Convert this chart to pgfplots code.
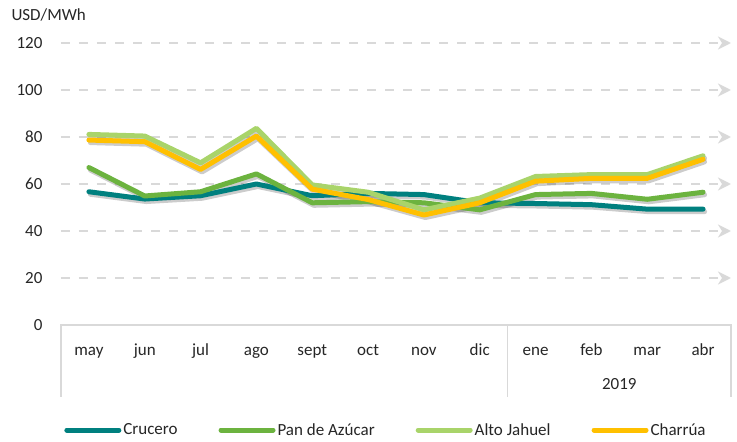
\documentclass[border=0pt]{standalone}
\usepackage{pgfplots}
\pgfplotsset{compat=1.18}
\usepackage{pgfplotstable}
\usepackage{fontspec}
\setmainfont{Carlito}
\usetikzlibrary{arrows.meta}

\definecolor{cru}{HTML}{00807F}
\definecolor{pan}{HTML}{6CB33F}
\definecolor{alto}{HTML}{A9D46A}
\definecolor{cha}{HTML}{FFC000}
\definecolor{gridc}{HTML}{D9D9D9}
\definecolor{txt}{HTML}{262626}

% precio por barra, USD/MWh
\pgfplotstableread{
x cru pan alto cha
0 56.7 67.0 81.1 78.7
1 53.6 54.9 80.4 78.0
2 55.0 56.7 69.0 66.2
3 60.0 64.3 83.7 80.4
4 55.0 52.0 59.6 57.8
5 56.0 52.5 56.5 53.4
6 55.5 52.0 49.0 46.8
7 52.0 49.0 54.0 52.0
8 51.7 55.5 63.2 61.2
9 51.2 56.0 64.0 62.4
10 49.3 53.5 64.0 62.4
11 49.3 56.5 72.0 70.5
}\datatable

\newcommand{\lab}{\fontsize{17}{20}\selectfont}

\begin{document}
\begin{tikzpicture}
\begin{axis}[
    width=670pt, height=282pt, scale only axis,
    xmin=-0.5, xmax=11.5, ymin=0, ymax=120,
    xtick={0,...,11},
    xticklabels={may,jun,jul,ago,sept,oct,nov,dic,ene,feb,mar,abr},
    ytick={0,20,...,120},
    /pgf/number format/assume math mode=true,
    axis line style={draw=none},
    major tick length=0pt,
    tick label style={font=\lab, text=txt},
    yticklabel style={xshift=-15pt},
    xticklabel style={yshift=-30pt, anchor=base},
    clip=false,
    legend columns=4,
    legend style={draw=none, at={(axis description cs:0.5,0)}, anchor=center,
        yshift=-105pt, xshift=-10pt, font=\lab, text=txt,
        /tikz/every even column/.append style={column sep=39pt}},
    legend image code/.code={\draw[line width=5pt, line cap=round] (0pt,0pt) -- (52pt,0pt);},
    every axis plot/.append style={line width=5pt, line join=round, line cap=round},
]
% lineas de guia con flecha
\pgfplotsinvokeforeach{20,40,...,120}{
  \draw[gridc, line width=2.5pt, dash pattern=on 9pt off 9pt,
        -{Stealth[length=13pt,width=13pt,inset=4pt]}]
        (axis cs:-0.5,#1) -- (axis cs:11.5,#1);
}
% sombras
\addplot[forget plot, black, opacity=0.2, xshift=1.5pt, yshift=-2.5pt] table[x=x, y=cru] {\datatable};
\addplot[forget plot, black, opacity=0.2, xshift=1.5pt, yshift=-2.5pt] table[x=x, y=pan] {\datatable};
\addplot[forget plot, black, opacity=0.2, xshift=1.5pt, yshift=-2.5pt] table[x=x, y=alto] {\datatable};
\addplot[forget plot, black, opacity=0.2, xshift=1.5pt, yshift=-2.5pt] table[x=x, y=cha] {\datatable};

\addplot[cru] table[x=x, y=cru] {\datatable};
\addplot[pan] table[x=x, y=pan] {\datatable};
\addplot[alto] table[x=x, y=alto] {\datatable};
\addplot[cha] table[x=x, y=cha] {\datatable};
\legend{Crucero, Pan de Azúcar, Alto Jahuel, Charrúa}

% marco de categorias
\draw[gridc, line width=1.5pt] (axis cs:-0.5,-30.6) -- (axis cs:-0.5,0) -- (axis cs:11.5,0) -- (axis cs:11.5,-30.6);
\draw[gridc, line width=1.5pt] (axis cs:7.5,0) -- (axis cs:7.5,-30.6);
\node[font=\lab, text=txt] at (axis cs:9.5,-25) {2019};
\node[font=\lab, text=txt, anchor=west] at ([xshift=-53pt, yshift=28pt]axis description cs:0,1) {USD/MWh};
\coordinate (O) at (axis description cs:0,0);
\end{axis}
\path (O) ++(-61pt,-117pt) rectangle ++(737pt,442pt);
\end{tikzpicture}
\end{document}
